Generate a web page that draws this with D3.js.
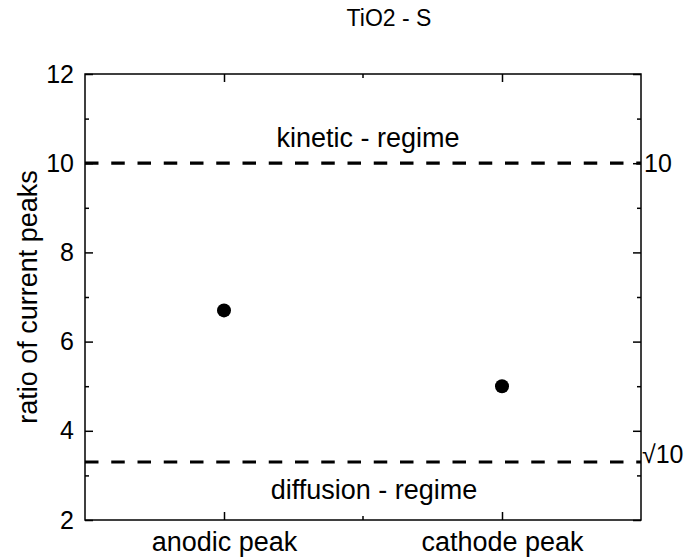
<!DOCTYPE html>
<html>
<head>
<meta charset="utf-8">
<script src="https://cdn.jsdelivr.net/npm/d3@7/dist/d3.min.js"></script>
<style>
  html, body { margin: 0; padding: 0; background: #fff; }
  svg { display: block; font-family: "Liberation Sans", Arial, sans-serif; }
</style>
</head>
<body>
<svg id="chart" width="689" height="557"></svg>
<script>
// Peak-current ratios for the TiO2 - S electrode
const categories = ["anodic peak", "cathode peak"];
const ratios = [6.7, 5.0];

// Reference regimes drawn as dashed horizontal lines
const regimeValues = [10, 3.3];
const regimeTickLabels = ["10", "\u221A10"];
const regimeNames = ["kinetic - regime", "diffusion - regime"];

const yTicks = [2, 4, 6, 8, 10, 12];
const yMinorTicks = [3, 5, 7, 9, 11];

const title = "TiO2 - S";
const yTitle = "ratio of current peaks";

const svg = d3.select("#chart");
const plotLeft = 85, plotRight = 641, plotTop = 74, plotBottom = 520;

const x = d3.scalePoint().domain(categories).range([plotLeft, plotRight]).padding(0.5);
const y = d3.scaleLinear().domain([2, 12]).range([plotBottom, plotTop]);

const major = 8, minor = 4;
const labelSize = 27, tickSize = 25;

// frame
svg.append("rect")
  .attr("x", plotLeft).attr("y", plotTop)
  .attr("width", plotRight - plotLeft).attr("height", plotBottom - plotTop)
  .attr("fill", "none").attr("stroke", "#000").attr("stroke-width", 1.5);

function styleAxis(g) {
  g.select(".domain").remove();
  g.selectAll(".tick line").attr("stroke", "#000").attr("stroke-width", 1.5);
}

// left axis: labelled major ticks, inward
svg.append("g")
  .attr("transform", `translate(${plotLeft},0)`)
  .call(d3.axisLeft(y).tickValues(yTicks).tickFormat(d3.format("d")).tickSizeInner(-major).tickPadding(11))
  .call(styleAxis)
  .call(g => g.selectAll("text").attr("font-size", tickSize).attr("fill", "#000")
    .attr("font-family", "Liberation Sans, Arial, sans-serif"));
svg.append("g")
  .attr("transform", `translate(${plotLeft},0)`)
  .call(d3.axisLeft(y).tickValues(yMinorTicks).tickFormat("").tickSizeInner(-minor))
  .call(styleAxis);

// right axis: unlabelled ticks, inward
svg.append("g")
  .attr("transform", `translate(${plotRight},0)`)
  .call(d3.axisRight(y).tickValues(yTicks).tickFormat("").tickSizeInner(-major))
  .call(styleAxis);
svg.append("g")
  .attr("transform", `translate(${plotRight},0)`)
  .call(d3.axisRight(y).tickValues(yMinorTicks).tickFormat("").tickSizeInner(-minor))
  .call(styleAxis);

// bottom axis: category ticks, inward
svg.append("g")
  .attr("transform", `translate(0,${plotBottom})`)
  .call(d3.axisBottom(x).tickSizeInner(-major).tickPadding(12))
  .call(styleAxis)
  .call(g => g.selectAll("text").attr("font-size", labelSize).attr("fill", "#000")
    .attr("font-family", "Liberation Sans, Arial, sans-serif"));

// top axis: category ticks, inward
svg.append("g")
  .attr("transform", `translate(0,${plotTop})`)
  .call(d3.axisTop(x).tickFormat("").tickSizeInner(-major))
  .call(styleAxis);

// minor ticks midway between categories
const midCat = (x(categories[0]) + x(categories[1])) / 2;
[[plotBottom, -1], [plotTop, 1]].forEach(([yy, dir]) => {
  svg.append("line")
    .attr("x1", midCat).attr("x2", midCat)
    .attr("y1", yy).attr("y2", yy + dir * minor)
    .attr("stroke", "#000").attr("stroke-width", 1.5);
});

// regime lines
svg.selectAll(".regime")
  .data(regimeValues)
  .join("line")
  .attr("class", "regime")
  .attr("x1", plotLeft).attr("x2", plotRight)
  .attr("y1", d => y(d)).attr("y2", d => y(d))
  .attr("stroke", "#000").attr("stroke-width", 3.2)
  .attr("stroke-dasharray", "13.5,12.75");

// right-hand labels for the regime lines
svg.selectAll(".regime-label")
  .data(regimeValues)
  .join("text")
  .attr("class", "regime-label")
  .attr("x", (d, i) => i === 0 ? plotRight + 3 : plotRight + 1)
  .attr("y", d => y(d))
  .attr("dy", (d, i) => i === 0 ? "0.36em" : "0.04em")
  .attr("font-size", tickSize)
  .text((d, i) => regimeTickLabels[i]);

// regime names
svg.append("text")
  .attr("x", 368).attr("y", y(regimeValues[0]) - 16)
  .attr("text-anchor", "middle").attr("font-size", labelSize)
  .text(regimeNames[0]);
svg.append("text")
  .attr("x", 374).attr("y", y(regimeValues[1]) + 37)
  .attr("text-anchor", "middle").attr("font-size", labelSize)
  .text(regimeNames[1]);

// data points
svg.selectAll(".pt")
  .data(ratios)
  .join("circle")
  .attr("class", "pt")
  .attr("cx", (d, i) => x(categories[i]))
  .attr("cy", d => y(d))
  .attr("r", 7)
  .attr("fill", "#000");

// title
svg.append("text")
  .attr("x", 389).attr("y", 26)
  .attr("text-anchor", "middle").attr("font-size", 23)
  .text(title);

// y-axis title
svg.append("text")
  .attr("transform", `translate(37,${(plotTop + plotBottom) / 2}) rotate(-90)`)
  .attr("text-anchor", "middle").attr("font-size", labelSize)
  .text(yTitle);
</script>
</body>
</html>
